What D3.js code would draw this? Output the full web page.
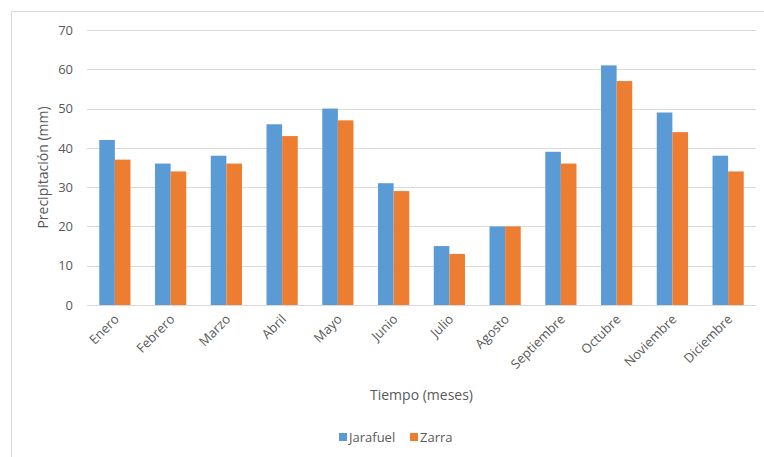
<!DOCTYPE html>
<html>
<head>
<meta charset="utf-8">
<script src="https://cdn.jsdelivr.net/npm/d3@7"></script>
<style>
  html, body { margin: 0; padding: 0; background: #fff; }
  svg { display: block; }
  text { font-family: "Open Sans", "Noto Sans", sans-serif; fill: #595959; }
</style>
</head>
<body>
<svg id="chart" width="764" height="457"></svg>
<script>
// Monthly precipitation (mm) for two stations
const months = ["Enero", "Febrero", "Marzo", "Abril", "Mayo", "Junio", "Julio",
                "Agosto", "Septiembre", "Octubre", "Noviembre", "Diciembre"];
const jarafuel = [42, 36, 38, 46, 50, 31, 15, 20, 39, 61, 49, 38];
const zarra    = [37, 34, 36, 43, 47, 29, 13, 20, 36, 57, 44, 34];
const seriesNames = ["Jarafuel", "Zarra"];
const yTicks = [0, 10, 20, 30, 40, 50, 60, 70];

const colors = ["#5B9BD5", "#ED7D31"];
const svg = d3.select("#chart");

// outer chart frame
svg.append("rect")
  .attr("x", 11.5).attr("y", 11.5)
  .attr("width", 760).attr("height", 460)
  .attr("fill", "none").attr("stroke", "#D9D9D9");

const plotLeft = 87, plotRight = 756, plotTop = 30, plotBottom = 305;

const x0 = d3.scaleBand().domain(months).range([plotLeft, plotRight])
  .paddingInner(0.44).paddingOuter(0.22);
const x1 = d3.scaleBand().domain(seriesNames).range([0, x0.bandwidth()]);
const y = d3.scaleLinear().domain([0, 70]).range([plotBottom, plotTop]);

// horizontal gridlines
svg.append("g").selectAll("line").data(yTicks).join("line")
  .attr("x1", plotLeft).attr("x2", plotRight)
  .attr("y1", d => Math.round(y(d)) + 0.5).attr("y2", d => Math.round(y(d)) + 0.5)
  .attr("stroke", "#D9D9D9").attr("stroke-width", 1.2);

// y tick labels
const yAxis = svg.append("g").attr("transform", `translate(${plotLeft},0)`)
  .call(d3.axisLeft(y).tickValues(yTicks).tickSize(0).tickPadding(14));
yAxis.select(".domain").remove();
yAxis.selectAll("text").attr("font-size", 13).style("fill", "#595959")
  .style("font-family", "'Open Sans', sans-serif");

// grouped bars
const data = months.map((m, i) => ({ month: m, values: [jarafuel[i], zarra[i]] }));
const groups = svg.append("g").selectAll("g").data(data).join("g")
  .attr("transform", d => `translate(${x0(d.month)},0)`);
groups.selectAll("rect").data(d => d.values.map((v, k) => ({ key: seriesNames[k], v, k })))
  .join("rect")
  .attr("x", d => x1(d.key))
  .attr("width", x1.bandwidth())
  .attr("y", d => y(d.v))
  .attr("height", d => y(0) - y(d.v))
  .attr("fill", d => colors[d.k]);

// x tick labels, rotated
const xAxis = svg.append("g").attr("transform", `translate(0,${plotBottom})`)
  .call(d3.axisBottom(x0).tickSize(0).tickPadding(0));
xAxis.select(".domain").remove();
xAxis.selectAll("text")
  .attr("font-size", 13).style("fill", "#595959")
  .style("font-family", "'Open Sans', sans-serif")
  .attr("text-anchor", "end")
  .attr("dy", 0).attr("y", 0)
  .attr("transform", "translate(5,15) rotate(-45)");

// axis titles
svg.append("text")
  .attr("transform", `translate(48,${(plotTop + plotBottom) / 2}) rotate(-90)`)
  .attr("text-anchor", "middle").attr("font-size", 14)
  .text("Precipitación (mm)");
svg.append("text")
  .attr("x", (plotLeft + plotRight) / 2).attr("y", 400)
  .attr("text-anchor", "middle").attr("font-size", 14)
  .text("Tiempo (meses)");

// legend
const legend = svg.append("g").attr("transform", "translate(339,437)");
const lx = [0, 71];
seriesNames.forEach((name, i) => {
  legend.append("rect").attr("x", lx[i]).attr("y", -4).attr("width", 8).attr("height", 8)
    .attr("fill", colors[i]);
  legend.append("text").attr("x", lx[i] + 10).attr("y", 5)
    .attr("font-size", 13).text(name);
});
</script>
</body>
</html>
